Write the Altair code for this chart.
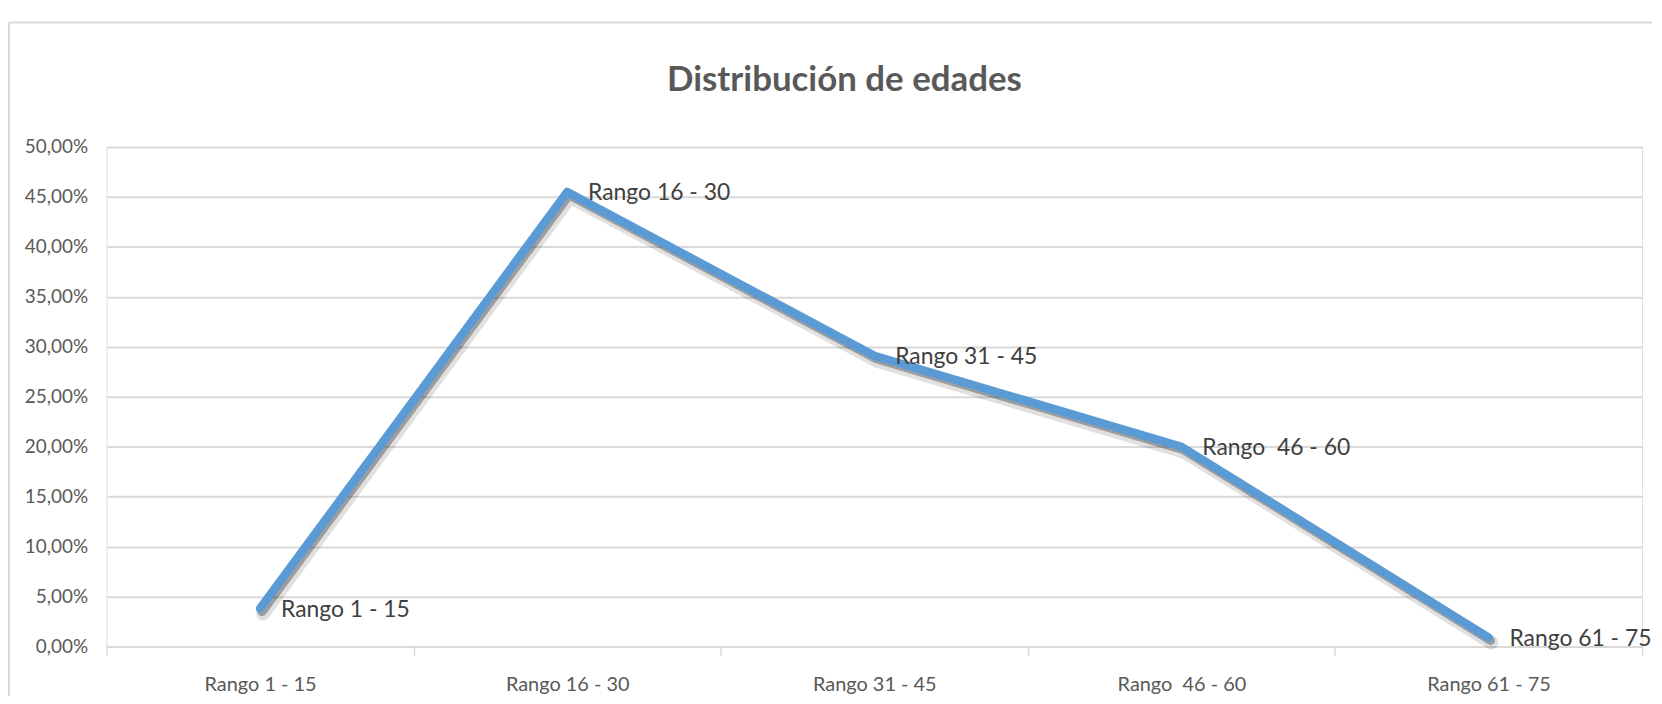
import altair as alt
import pandas as pd

categories = ["Rango 1 - 15", "Rango 16 - 30", "Rango 31 - 45", "Rango\u00a0 46 - 60", "Rango 61 - 75"]
values = [3.8, 45.5, 29.1, 20.0, 0.9]
y_ticks = [0, 5, 10, 15, 20, 25, 30, 35, 40, 45, 50]
title_text = "Distribución de edades"

FONT = "Lato, sans-serif"
BLUE = "#5b9bd5"
GRID = "#d9d9d9"
AXIS_TXT = "#595959"
LABEL_TXT = "#404040"

W, H = 1543, 502

df = pd.DataFrame({"cat": categories, "val": values, "order": list(range(len(categories)))})

x_enc = alt.X(
    "cat:N",
    sort=categories,
    scale=alt.Scale(paddingInner=0, paddingOuter=0),
    axis=alt.Axis(
        title=None,
        labelAngle=0,
        labelFont=FONT,
        labelFontSize=20,
        labelColor=AXIS_TXT,
        labelPadding=19,
        ticks=True,
        tickBand="extent",
        tickColor=GRID,
        tickWidth=1.5,
        tickSize=9,
        domain=False,
        grid=False,
    ),
)
y_enc = alt.Y(
    "val:Q",
    scale=alt.Scale(domain=[0, 50], nice=False),
    axis=alt.Axis(
        title=None,
        values=y_ticks,
        labelExpr="replace(format(datum.value, '.2f'), '.', ',') + '%'",
        labelFont=FONT,
        labelFontSize=19,
        labelColor=AXIS_TXT,
        labelPadding=19,
        ticks=False,
        tickSize=0,
        domain=False,
        grid=True,
        gridColor=GRID,
        gridWidth=2,
    ),
)

base = alt.Chart(df)

shadow1 = base.mark_line(
    color="#000000", opacity=0.12, strokeWidth=14, strokeCap="round", strokeJoin="round",
    xOffset=3, yOffset=5,
).encode(x=x_enc, y=y_enc, order="order:Q")
shadow2 = base.mark_line(
    color="#303030", opacity=0.38, strokeWidth=9, strokeCap="round", strokeJoin="round",
    xOffset=2, yOffset=3,
).encode(x=x_enc, y=y_enc, order="order:Q")
line = base.mark_line(
    color=BLUE, strokeWidth=8.5, strokeCap="round", strokeJoin="round",
).encode(x=x_enc, y=y_enc, order="order:Q")
labels = base.mark_text(
    align="left", baseline="middle", dx=21, dy=1,
    font=FONT, fontSize=23, color=LABEL_TXT,
).encode(x=x_enc, y=y_enc, text="cat:N")

frame_df = pd.DataFrame({"k": [0]})
frame_left = alt.Chart(frame_df).mark_rule(color=GRID, strokeWidth=2).encode(
    x=alt.value(-98), y=alt.value(-125), y2=alt.value(H + 60)
)
frame_top = alt.Chart(frame_df).mark_rule(color=GRID, strokeWidth=2).encode(
    x=alt.value(-98), x2=alt.value(W + 10), y=alt.value(-125)
)

chart = alt.layer(frame_left, frame_top, shadow1, shadow2, line, labels).properties(
    width=W,
    height=H,
    autosize=alt.AutoSizeParams(type="none"),
    padding={"left": 99, "top": 138, "right": 12, "bottom": 48},
    title=alt.TitleParams(
        text=title_text,
        font=FONT,
        fontSize=35,
        fontWeight="bold",
        color=AXIS_TXT,
        anchor="middle",
        frame="group",
        baseline="alphabetic",
        dx=-30,
        offset=-105,
    ),
).configure_view(stroke=None).configure(background="white")

chart.save("out.html", embed_options={"renderer": "svg", "actions": False})
